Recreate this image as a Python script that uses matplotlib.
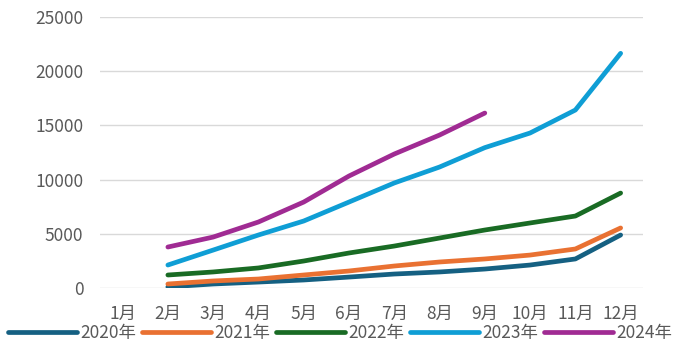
import matplotlib.pyplot as plt
import numpy as np

plt.rcParams['font.family'] = ['Noto Sans CJK SC', 'DejaVu Sans']

months = ['1月', '2月', '3月', '4月', '5月', '6月', '7月', '8月', '9月', '10月', '11月', '12月']
nan = np.nan
y2020 = [nan, 100, 370, 550, 740, 1010, 1290, 1480, 1750, 2120, 2680, 4890]
y2021 = [nan, 370, 650, 830, 1200, 1570, 2030, 2400, 2680, 3040, 3600, 5540]
y2022 = [nan, 1200, 1480, 1850, 2490, 3230, 3870, 4610, 5350, 6000, 6640, 8760]
y2023 = [nan, 2120, 3500, 4890, 6180, 7930, 9690, 11160, 12950, 14300, 16420, 21650]
y2024 = [nan, 3780, 4700, 6090, 7930, 10330, 12360, 14110, 16140, nan, nan, nan]
series = [y2020, y2021, y2022, y2023, y2024]
names = ['2020年', '2021年', '2022年', '2023年', '2024年']
colors = ['#156082', '#E97132', '#196B24', '#0F9ED5', '#A02B93']

fig = plt.figure(figsize=(6.8, 3.47), dpi=100)
ax = fig.add_axes([0.147, 0.170, 0.799, 0.781])

x = np.arange(len(months))
for vals, name, c in zip(series, names, colors):
    ax.plot(x, vals, color=c, lw=3.4, label=name, solid_capstyle='round', solid_joinstyle='round')

ax.set_xlim(-0.5, 11.5)
ax.set_ylim(0, 25000)
ax.set_yticks([0, 5000, 10000, 15000, 20000, 25000])
ax.set_xticks(x)
ax.set_xticklabels(months)
ax.grid(axis='y', color='#d9d9d9', lw=1)
ax.set_axisbelow(True)
for s in ax.spines.values():
    s.set_visible(False)
ax.tick_params(axis='both', length=0, labelsize=12.5, labelcolor='#595959')
ax.tick_params(axis='x', pad=12)
ax.tick_params(axis='y', pad=12)

fig.legend(loc='center', bbox_to_anchor=(0.5, 0.04), ncol=5, frameon=False,
           fontsize=12.5, labelcolor='#595959', handlelength=4.0,
           handletextpad=0.2, columnspacing=0.3)

fig.savefig('out.png', dpi=100)
